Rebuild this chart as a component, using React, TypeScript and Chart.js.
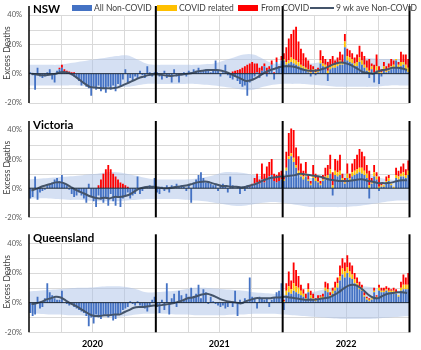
import { useEffect, useRef } from 'react';
import { Chart, registerables } from 'chart.js';
Chart.register(...registerables);

// ---- axis / labels ----
const WEEKS = 156;
const YEARS = ['2020', '2021', '2022'];
const YEAR_TICK_WEEKS = [26, 78, 130];
const YEAR_DIVIDERS = [0, 52, 104, 156];
const QUARTER_WEEKS = 13;
const Y_MIN = -20;
const Y_MAX = 40;
const Y_GRID = [-20, -10, 0, 10, 20, 30, 40];
const Y_LABELS = [-20, 0, 20, 40];
const Y_TITLE = 'Excess Deaths';
const COVID_START = 104; // first week of the yellow series arrays
const LEGEND_LABELS = ['All Non-COVID', 'COVID related', 'From COVID', '9 wk ave Non-COVID'];

// ---- NSW ----
const nswBlue = [
  1, -1, -11, 4, -2, -3, -2, 1, 3, -4, -6, 2, 3,
  4, 1, 0, 0, -1, -2, -3, -5, -8, -7, -9, -10, -15,
  -9, -11, -8, -12, -10, -13, -9, -11, -8, -12, -7, -9, -4,
  3, -6, -3, -5, -2, -3, 2, -1, -3, 5, 1, -2, 1,
  1, -2, -4, 2, -3, -1, -6, 3, -2, -6, -1, 1, -2,
  2, 1, 3, 2, 4, 1, 2, 3, 2, 1, 3, 9, 2,
  -2, 1, 6, -1, -3, -4, -2, -5, -7, -9, -8, -15, -6,
  -4, -2, 1, -3, 2, 5, -2, 3, 6, -4, 8, 4, 9,
  9, 6, 7, 8, 7, 6, 5, 4, 3, 2, 1, -2, 2,
  -1, 1, 7, 5, 4, -5, 3, 4, 4, 5, 6, 6, 18,
  9, 8, 7, 5, 5, 8, 6, 4, 2, -3, 3, -6, 2,
  -7, -2, 3, 1, 2, 3, 4, 9, 4, 5, 6, 3, 1,
];
const nswYellow = [
  1, 2, 2, 3, 3, 3, 3, 2, 2, 2, 2, 1, 1,
  1, 1, 2, 2, 2, 2, 2, 2, 2, 2, 3, 2, 4,
  3, 3, 3, 2, 3, 3, 3, 2, 2, 2, 2, 1, 3,
  1, 1, 2, 1, 2, 2, 2, 1, 2, 3, 2, 3, 3,
];
const nswRed = [
  0, 0, 0, 0, 0, 0, 0, 0, 0, 0, 0, 0, 1,
  2, 2, 2, 1.5, 1, 1, 0, 0, 0, 0, 0, 0, 0,
  0, 0, 0, 0, 0, 0, 0, 0, 0, 0, 0, 0, 0,
  0, 0, 0, 0, 0, 0, 0, 0, 0, 0, 0, 0, 0,
  0, 0, 0, 0, 0, 0, 0, 0, 0, 0, 0, 0, 0,
  0, 0, 0, 0, 0, 0, 0, 0, 0, 0, 0, 0, 0,
  0, 0, 0, 0, 0, 1.5, 2, 2.5, 3, 4, 5, 6, 7,
  8, 7, 6, 4, 3, 2, 4, 2, 3, 1, 3, 1, 3,
  4, 10, 15, 16, 20, 23, 14, 11, 9, 7, 6, 5, 2,
  2, 2, 7, 5, 4, 6, 5, 6, 3, 4, 6, 5, 5,
  5, 5, 4, 4, 5, 8, 6, 6, 5, 8, 2, 5, 8,
  4, 2, 3, 3, 3, 5, 3, 0, 2, 7, 5, 7, 6,
];
const nswAvg = [
  0, -0.5, -1, -1, -0.5, 0, 1, 1, 0, -2, -4.5, -7, -9, -9.5, -9.8, -10, -10, -9.8, -9, -7.5, -6, -4.5, -3, -2, -1, -0.5,
  -0.5, -1, -1.5, -1.5, -1, -0.5, 0, 0.5, 1.5, 2, 2.5, 2.5, 2.5, 2, 1, -0.5, -2, -3.5, -5, -4.5, -3, -1, 1, 2.5, 3.5, 4.5,
  5, 5, 4.5, 3.5, 2.5, 2, 2, 2.5, 3.5, 5, 6.5, 7.5, 7.5, 6.5, 5, 3, 1, 0.5, 0, 1.5, 2.5, 3, 4, 4, 3.5, 2.5,
];
const nswHi = [6, 6, 6, 6, 7, 8, 9, 10, 11, 12, 12.5, 10, 7, 6, 6, 6, 6, 6, 6.5, 7, 9, 11, 13, 13, 10, 7, 7, 7, 7, 7, 8, 9, 10, 10.5, 10.5, 10.5, 10, 10, 10, 10];
const nswLo = [-8, -8, -8, -8, -8, -8, -8.5, -9, -9, -9, -9, -8, -7, -7, -7, -7, -7, -7, -7.5, -8, -9, -10, -11, -11, -9, -7.5, -7, -7, -7, -7.5, -8, -8.5, -9, -9, -9, -9, -8.5, -8, -8, -8];

// ---- Victoria ----
const vicBlue = [
  -7, -6, 8, -8, -3, -2, -1, 2, 3, 4, 6, 7, 5,
  9, 3, 2, -1, -4, -6, -5, -3, -5, -7, -10, 3, -6,
  -9, -13, -5, -8, -10, -6, -12, -4, -9, -12, -6, -13, -7,
  -5, -3, -7, -5, -4, 8, -4, -2, 1, 1, 2, 1, 7,
  -3, -4, 1, -2, 2, -3, 2, 1, 3, 1, 2, 1, -2,
  2, -10, 4, 6, 9, 11, 7, 4, 5, 3, 2, 3, -2,
  2, 3, 1, -3, 8, 2, 0, 1, -4, 1, -2, 2, 1,
  2, 3, 4, 3, 6, 4, 6, 8, 9, 5, 4, 5, 6,
  5, 12, 20, 22, 18, 14, 10, 8, 6, 8, 5, 2, 7,
  5, 4, 2, 5, 6, 7, 10, -5, 9, 8, 9, 5, 3,
  7, 5, 8, 9, 10, 11, 10, 9, 7, -7, 3, 8, 6,
  -2, 1, 1, 4, 5, 2, 0, 7, 6, 8, 8, 7, 9,
];
const vicYellow = [
  1, 2, 2, 2, 3, 2, 2, 2, 2, 2, 1, 1, 2,
  2, 1, 1, 1, 2, 2, 3, 2, 3, 3, 3, 2, 1,
  3, 2, 3, 3, 3, 3, 4, 3, 3, 2, 1, 3, 2,
  1, 1, 1, 1, 2, 1, 1, 2, 2, 2, 3, 2, 3,
];
const vicRed = [
  0, 0, 0, 0, 0, 0, 0, 0, 0, 0, 0, 0, 0,
  0, 0, 0, 0, 0, 0, 0, 0, 0, 0, 0, 0, 0,
  0, 0, 2, 6, 10, 13, 16, 13, 10, 8, 6, 4, 3,
  2, 1, 0, 0, 0, 0, 0, 0, 0, 0, 0, 0, 0,
  0, 0, 0, 0, 0, 0, 0, 0, 0, 0, 0, 0, 0,
  0, 0, 0, 0, 0, 0, 0, 0, 0, 0, 0, 0, 0,
  0, 0, 0, 0, 0, 0, 0, 0, 0, 0, 0, 0, 1,
  1, 4, 6, 3, 11, 6, 9, 10, 11, 5, 5, 6, 6,
  2, 11, 16, 17, 19, 12, 10, 7, 4, 8, 3, 2, 7,
  3, 3, 2, 3, 6, 7, 10, 9, 8, 8, 11, 3, 3,
  7, 3, 6, 8, 10, 13, 11, 10, 6, 10, 3, 5, 3,
  7, 2, 0, 3, 2, 0, 0, 5, 4, 5, 6, 4, 7,
];
const vicAvg = [
  -1.5, -0.5, 1, 2, 3, 4, 4, 3, 1, -1, -2.5, -4, -5.5, -6.5, -7, -6.5, -7, -6, -6, -5.5, -4.5, -2.5, -0.5, 0.5, 1, 1,
  0.5, 0, 0, 0.5, 1, 1.5, 2, 3, 4, 4.5, 4.5, 3.5, 2.5, 1.5, 1.5, 1, 1, 0.5, 1, 2, 3, 4.5, 6, 7, 7.5, 8,
  8, 8.5, 9, 10, 9.5, 9, 8.5, 8, 7, 6, 5.5, 5, 5, 5, 5.5, 6, 6, 5, 4.5, 3.5, 3.5, 3.5, 4, 5, 5.5, 5.5,
];
const vicHi = [6, 6.5, 7, 7.5, 8, 8.5, 9.5, 10, 11, 11, 10, 8.5, 7, 6, 6, 6, 6, 6.5, 7.5, 9, 11, 11, 10.5, 9, 8, 7, 7, 7, 7, 7, 8, 9, 10, 10, 10, 9, 7, 6, 5.5, 5.5];
const vicLo = [-7, -7, -7, -7.5, -8, -8, -8.5, -9, -9, -9, -8.5, -8, -7.5, -7.5, -7.5, -7.5, -8, -8.5, -9, -10, -11, -12, -12, -11, -10, -9.5, -10, -11, -12, -13, -13, -13, -13, -12.5, -12, -11, -10, -9, -8.5, -8.5];

// ---- Queensland ----
const qldBlue = [
  -7, -9, -8, 4, -4, -3, 3, 13, 7, 5, 3, 2, 2,
  8, 0, -1, -2, -1, -3, -4, -5, -6, -7, -9, -16, -10,
  -14, -8, -10, -11, -9, -8, -10, -9, -12, -11, -8, -7, -5,
  -4, -3, 1, -1, -2, 1, -2, -3, -4, -6, -2, 2, 4,
  -3, -7, 2, -5, 13, -8, 3, 6, -3, 8, 5, 2, 6,
  4, 10, 4, 6, 12, 3, 9, 7, -1, 4, 1, -1, -2,
  -3, -2, -4, -3, 1, -3, 8, -9, 2, -1, 3, 1, 17,
  4, 3, -4, 4, 3, 2, 3, -3, 2, 4, 7, 8, 13,
  -5, 5, 7, 6, 8, 7, 6, 5, 4, 2, 7, 3, 2,
  1, 2, 3, 3, 8, 7, 4, 6, 8, 10, 15, 19, 17,
  20, 17, 16, 13, 11, 9, 8, 4, 2, 1, 2, 7, 3,
  8, 7, 7, 8, 7, 7, 7, 6, 4, 8, 9, 9, 9,
];
const qldYellow = [
  1, 3, 4, 3, 5, 4, 4, 3, 2, 1, 2, 2, 1,
  1, 1, 1, 1, 2, 2, 1, 2, 2, 3, 3, 4, 4,
  4, 4, 3, 3, 2, 2, 2, 1, 1, 1, 1, 1, 1,
  2, 1, 1, 1, 1, 1, 1, 1, 1, 2, 3, 3, 3,
];
const qldRed = [
  0, 0, 0, 0, 0, 0, 0, 0, 0, 0, 0, 0, 0,
  0, 0, 0, 0, 0, 0, 0, 0, 0, 0, 0, 0, 0,
  0, 0, 0, 0, 0, 0, 0, 0, 0, 0, 0, 0, 0,
  0, 0, 0, 0, 0, 0, 0, 0, 0, 0, 0, 0, 0,
  0, 0, 0, 0, 0, 0, 0, 0, 0, 0, 0, 0, 0,
  0, 0, 0, 0, 0, 0, 0, 0, 0, 0, 0, 0, 0,
  0, 0, 0, 0, 0, 0, 0, 0, 0, 0, 0, 0, 0,
  0, 0, 0, 0, 0, 0, 0, 0, 0, 0, 0, 0, 0,
  1, 5, 10, 6, 14, 11, 8, 4, 3, 3, 4, 3, 3,
  1, 2, 1, 2, 4, 4, 2, 2, 4, 4, 7, 7, 6,
  8, 6, 6, 4, 4, 3, 2, 2, 1, 1, 0, 2, 1,
  2, 2, 2, 2, 2, 1, 2, 2, 0, 4, 7, 5, 8,
];
const qldAvg = [
  -1, -0.5, 0.5, 2, 3, 4, 3.5, 1.5, -0.5, -2, -4, -6, -8, -9, -9, -8.5, -8.5, -8, -8, -6.5, -5, -3.5, -3, -3, -2.5, -2,
  -2, -1.5, -1, -0.5, 0.5, 1.5, 3, 3.5, 4.5, 5.5, 6, 5, 3.5, 2, 1, 0.5, 0, -0.5, 1, 2, 3, 3, 3, 3, 3.5, 3.5,
  4, 3.5, 3, 2.5, 2, 2, 2, 2.5, 3, 3.5, 5, 7, 9.5, 11.5, 12, 11, 8.5, 5.5, 3.5, 3, 4.5, 6, 6.5, 7, 7, 6.5,
];
const qldHi = [7.5, 8, 8.5, 9, 9.5, 10, 10, 10.5, 11, 11, 10.5, 9, 7, 7, 7.5, 8, 9, 10, 10, 9.5, 9, 8.5, 8, 7, 6.5, 6, 5.5, 5.5, 6, 7, 8.5, 10, 11, 11, 11, 10.5, 9.5, 8.5, 8, 7.5];
const qldLo = [-7, -7.5, -8, -8, -8.5, -8.5, -9, -9.5, -9.5, -9.5, -9, -8, -7.5, -7.5, -7.5, -8, -8, -8.5, -8.5, -8.5, -8.5, -8, -8, -7.5, -7.5, -7.5, -8, -8.5, -9, -9.5, -10, -10.5, -11, -11, -11, -11, -10.5, -10, -9.5, -9];

// ---- styles ----
const BLUE = '#4472C4';
const YELLOW = '#FFC000';
const RED = '#FF0000';
const LINE = '#44546A';
const BAND = 'rgba(172,194,232,0.5)';
const GRID = '#D9D9D9';
const FONT = 'Lato, "Open Sans", sans-serif';

type Panel = {
  name: string; blue: number[]; yellow: number[]; red: number[]; avg: number[]; hi: number[]; lo: number[];
  canvasTop: number; canvasH: number; padTop: number; plotH: number; showYears: boolean; titleTop: number;
};

const PANELS: Panel[] = [
  { name: 'NSW', blue: nswBlue, yellow: nswYellow, red: nswRed, avg: nswAvg, hi: nswHi, lo: nswLo, canvasTop: 0, canvasH: 108, padTop: 15, plotH: 88, showYears: false, titleTop: 3 },
  { name: 'Victoria', blue: vicBlue, yellow: vicYellow, red: vicRed, avg: vicAvg, hi: vicHi, lo: vicLo, canvasTop: 114, canvasH: 108, padTop: 16, plotH: 87.3, showYears: false, titleTop: 118.5 },
  { name: 'Queensland', blue: qldBlue, yellow: qldYellow, red: qldRed, avg: qldAvg, hi: qldHi, lo: qldLo, canvasTop: 228, canvasH: 122, padTop: 15.3, plotH: 89, showYears: true, titleTop: 232 },
];

function hLine(ctx: CanvasRenderingContext2D, x0: number, x1: number, y: number) {
  ctx.beginPath(); ctx.moveTo(x0, y); ctx.lineTo(x1, y); ctx.stroke();
}
function vLine(ctx: CanvasRenderingContext2D, x: number, y0: number, y1: number) {
  ctx.beginPath(); ctx.moveTo(x, y0); ctx.lineTo(x, y1); ctx.stroke();
}

const decorPlugin = {
  id: 'decor',
  beforeDatasetsDraw(chart: any) {
    const { ctx, chartArea: a, scales } = chart;
    const x = scales.x, y = scales.y;
    ctx.save();
    ctx.strokeStyle = GRID;
    ctx.lineWidth = 1;
    Y_GRID.forEach((v) => {
      if (v === 0) return;
      hLine(ctx, a.left, a.right, Math.round(y.getPixelForValue(v)) + 0.5);
    });
    for (let w = 0; w <= WEEKS; w += QUARTER_WEEKS) {
      if (w % 52 === 0) continue;
      vLine(ctx, Math.round(x.getPixelForValue(w)) + 0.5, a.top, a.bottom);
    }
    ctx.restore();
  },
  afterDatasetsDraw(chart: any) {
    const { ctx, chartArea: a, scales } = chart;
    const x = scales.x, y = scales.y;
    ctx.save();
    ctx.strokeStyle = '#1E2A38';
    ctx.lineWidth = 1;
    hLine(ctx, a.left, a.right, y.getPixelForValue(0));
    ctx.strokeStyle = '#000';
    YEAR_DIVIDERS.forEach((v) => {
      ctx.lineWidth = v === 0 ? 1.5 : 2;
      vLine(ctx, x.getPixelForValue(v), a.top - 9, a.bottom);
    });
    ctx.restore();
  },
  afterDraw(chart: any, _args: any, opts: any) {
    const { ctx, chartArea: a, scales } = chart;
    const x = scales.x, y = scales.y;
    ctx.save();
    // y tick labels
    ctx.fillStyle = '#595959';
    ctx.font = `7.5px ${FONT}`;
    ctx.textAlign = 'right';
    ctx.textBaseline = 'middle';
    Y_LABELS.forEach((v) => ctx.fillText(v + '%', a.left - 7, y.getPixelForValue(v)));
    // y title
    ctx.save();
    ctx.translate(7, (a.top + a.bottom) / 2 - 6);
    ctx.rotate(-Math.PI / 2);
    ctx.textAlign = 'center';
    ctx.fillStyle = '#404040';
    ctx.font = `8.5px ${FONT}`;
    ctx.fillText(Y_TITLE, 0, 0);
    ctx.restore();
    // year labels
    if (opts.showYears) {
      ctx.fillStyle = '#000';
      ctx.font = `bold 9px ${FONT}`;
      ctx.textAlign = 'center';
      ctx.textBaseline = 'middle';
      YEAR_TICK_WEEKS.forEach((w, i) => ctx.fillText(YEARS[i], x.getPixelForValue(w), a.bottom + 11.7));
    }
    ctx.restore();
  },
};

function buildConfig(p: Panel): any {
  const padBottom = p.canvasH - p.padTop - p.plotH;
  const barOpts = { stack: 's', order: 5, barPercentage: 0.75, categoryPercentage: 1, clip: 8, borderWidth: 0 };
  return {
    type: 'bar',
    data: {
      datasets: [
        { type: 'line', label: 'band hi', data: p.hi.map((v, j) => ({ x: j * 4, y: v })), yAxisID: 'y2', borderWidth: 0, pointRadius: 0, tension: 0.4, fill: '+1', backgroundColor: BAND, order: 10 },
        { type: 'line', label: 'band lo', data: p.lo.map((v, j) => ({ x: j * 4, y: v })), yAxisID: 'y2', borderWidth: 0, pointRadius: 0, tension: 0.4, fill: false, order: 10 },
        { type: 'bar', label: LEGEND_LABELS[0], data: p.blue.map((v, i) => ({ x: i + 0.5, y: v })), backgroundColor: BLUE, ...barOpts },
        { type: 'bar', label: LEGEND_LABELS[1], data: p.yellow.map((v, i) => ({ x: COVID_START + i + 0.5, y: v })), backgroundColor: YELLOW, ...barOpts },
        { type: 'bar', label: LEGEND_LABELS[2], data: p.red.map((v, i) => ({ x: i + 0.5, y: v })), backgroundColor: RED, ...barOpts },
        { type: 'line', label: LEGEND_LABELS[3], data: p.avg.map((v, k) => ({ x: 2 * k + 1, y: v })), yAxisID: 'y2', borderColor: LINE, borderWidth: 2, pointRadius: 0, tension: 0.3, fill: false, order: 0 },
      ],
    },
    options: {
      animation: false,
      responsive: false,
      maintainAspectRatio: false,
      layout: { padding: { top: p.padTop, right: 11.5, bottom: padBottom, left: 29 } },
      plugins: { legend: { display: false }, tooltip: { enabled: false }, decor: { showYears: p.showYears } },
      scales: {
        x: { type: 'linear', display: false, offset: false, min: 0, max: WEEKS, stacked: true },
        y: { type: 'linear', display: false, min: Y_MIN, max: Y_MAX, stacked: true },
        y2: { type: 'linear', display: false, min: Y_MIN, max: Y_MAX, stacked: false },
      },
    },
    plugins: [decorPlugin],
  };
}

const legendItems = [
  { kind: 'box', color: BLUE, left: 72, textLeft: 94, label: LEGEND_LABELS[0] },
  { kind: 'box', color: YELLOW, left: 157, textLeft: 179, label: LEGEND_LABELS[1] },
  { kind: 'box', color: RED, left: 238, textLeft: 261, label: LEGEND_LABELS[2] },
  { kind: 'line', color: LINE, left: 310, textLeft: 336, label: LEGEND_LABELS[3] },
];

export default function App() {
  const r0 = useRef<HTMLCanvasElement>(null);
  const r1 = useRef<HTMLCanvasElement>(null);
  const r2 = useRef<HTMLCanvasElement>(null);
  const refs = [r0, r1, r2];

  useEffect(() => {
    const charts = PANELS.map((p, i) => new Chart(refs[i].current as HTMLCanvasElement, buildConfig(p)));
    return () => charts.forEach((c) => c.destroy());
  }, []);

  return (
    <div style={{ position: 'absolute', left: 0, top: 0, width: 421, height: 350, background: '#fff', overflow: 'hidden', fontFamily: FONT }}>
      {PANELS.map((p, i) => (
        <canvas key={p.name} ref={refs[i]} width={421} height={p.canvasH}
          style={{ position: 'absolute', left: 0, top: p.canvasTop, width: 421, height: p.canvasH }} />
      ))}
      {PANELS.map((p) => (
        <div key={'t' + p.name} style={{ position: 'absolute', left: 33, top: p.titleTop, fontSize: 11.5, lineHeight: '12px', fontWeight: 700, color: '#000', whiteSpace: 'nowrap' }}>{p.name}</div>
      ))}
      {legendItems.map((it) => (
        <div key={it.label}>
          {it.kind === 'box' ? (
            <div style={{ position: 'absolute', left: it.left, top: 4.5, width: 20, height: 6.5, background: it.color }} />
          ) : (
            <div style={{ position: 'absolute', left: it.left, top: 7, width: 24, height: 2, background: it.color }} />
          )}
          <div style={{ position: 'absolute', left: it.textLeft, top: 2.5, fontSize: 8.5, lineHeight: '10px', color: '#404040', whiteSpace: 'nowrap' }}>{it.label}</div>
        </div>
      ))}
    </div>
  );
}
